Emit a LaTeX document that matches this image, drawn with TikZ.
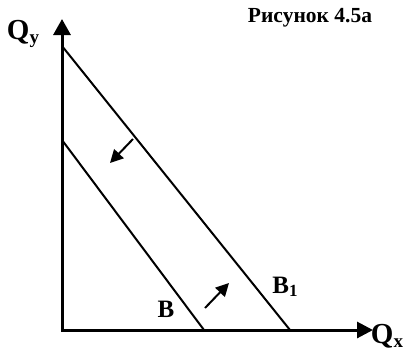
\documentclass[tikz,border=0pt]{standalone}
\usepackage{fontspec}
\setmainfont{Liberation Serif}
\usetikzlibrary{arrows.meta}
\newcommand{\subl}[2]{\raisebox{-0.3ex}{\fontsize{#1}{#1}\selectfont #2}}
\begin{document}
\begin{tikzpicture}[x=1pt,y=-1pt,
  axis/.style={line width=3pt,{Triangle[length=16pt,width=17pt]}-{Triangle[length=16pt,width=16pt]}},
  budget/.style={line width=2pt},
  shift arrow/.style={line width=2pt,-{Triangle[length=13pt,width=13pt]}},
  lbl/.style={font=\bfseries\fontsize{29}{29}\selectfont,inner sep=0pt},
  blbl/.style={font=\bfseries\fontsize{25}{25}\selectfont,inner sep=0pt},
  title/.style={font=\bfseries\fontsize{21.5}{21.5}\selectfont,inner sep=0pt}]
\useasboundingbox (0,0) rectangle (404,351);
\coordinate (ytop) at (62,19);
\coordinate (o) at (62,330);
\coordinate (xend) at (373,330);
\coordinate (b1y) at (62,46);
\coordinate (b1x) at (290,330);
\coordinate (by) at (62,140);
\coordinate (bx) at (204,330);
\coordinate (a1s) at (133,139);
\coordinate (a1e) at (110,163);
\coordinate (a2s) at (205,308);
\coordinate (a2e) at (229,283);
\draw[budget] (b1y) -- (b1x);
\draw[budget] (by) -- (bx);
\draw[axis] (ytop) -- (o) -- (xend);
\draw[shift arrow] (a1s) -- (a1e);
\draw[shift arrow] (a2s) -- (a2e);
\node[lbl] (qy) at (23,34) {Q\subl{19}{y}};
\node[lbl] (qx) at (387,336) {Q\subl{19}{x}};
\node[blbl] (b) at (166,309) {B};
\node[blbl] (b1) at (285,287) {B\subl{17}{1}};
\node[title] (t) at (310,18) {Рисунок 4.5а};
\end{tikzpicture}
\end{document}
